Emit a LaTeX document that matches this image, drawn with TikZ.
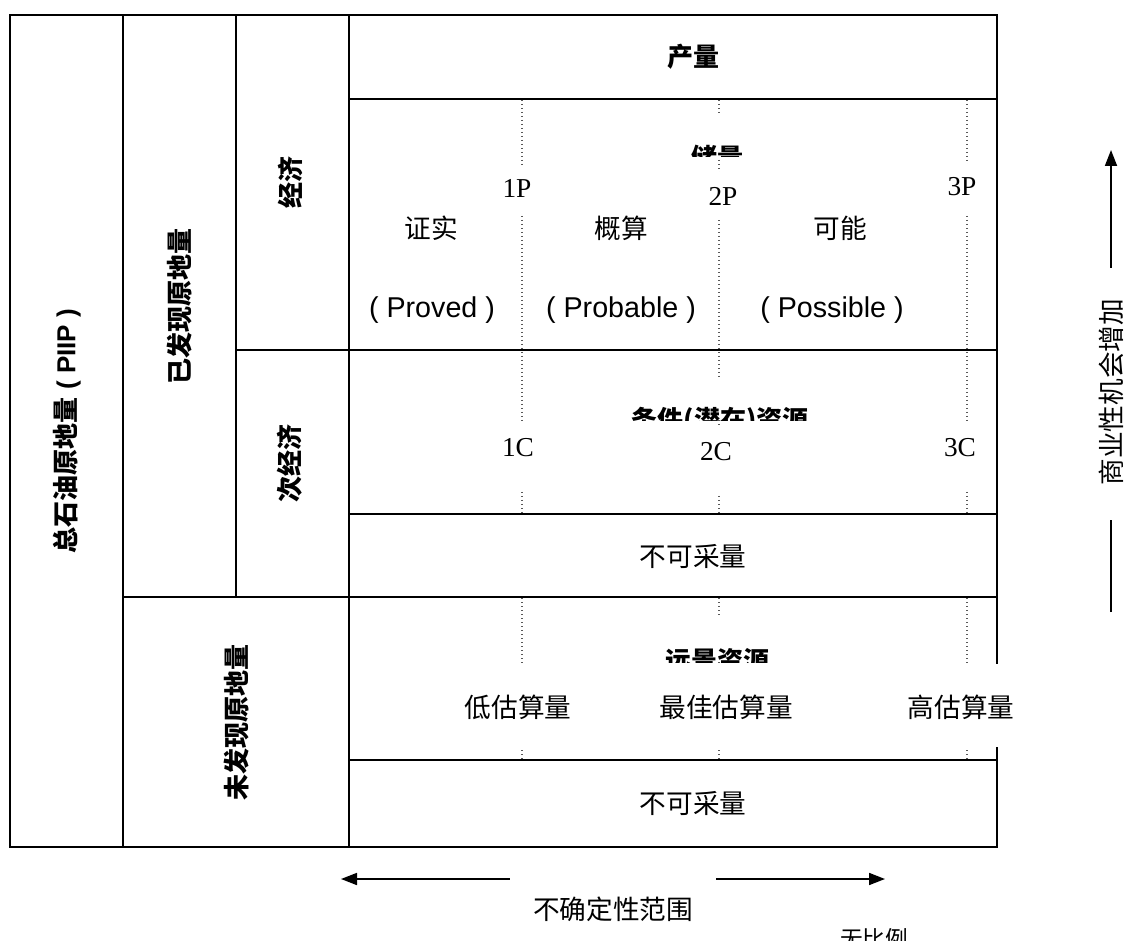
\documentclass[tikz,border=0pt]{standalone}
\usepackage{fontspec}
\setmainfont{Liberation Sans}
\newfontfamily\cjk{Noto Sans CJK SC}
\newfontfamily\tms{Liberation Serif}
\newfontfamily\lat{Liberation Sans}
\usetikzlibrary{arrows.meta}
\begin{document}
\begin{tikzpicture}[x=0.75pt,y=-0.75pt,
  frame/.style={line width=1.6pt, line cap=rect},
  dotline/.style={line width=1.1pt, black!65, dash pattern=on 0.8pt off 2.2pt},
  reg/.style={font=\cjk\fontsize{20}{24}\selectfont, inner sep=0pt},
  latreg/.style={font=\lat\fontsize{21.5}{24}\selectfont, inner sep=0pt},
  bld/.style={font=\cjk\bfseries\fontsize{19.5}{24}\selectfont, inner sep=0pt},
  tlab/.style={font=\tms\fontsize{20.5}{24}\selectfont, inner sep=0pt},
  tip/.tip={Triangle[length=12pt, width=9pt]},
  arr/.style={line width=1.3pt},
  blank/.style={fill=white, draw=none}
  ]
\clip (0,0) rectangle (1143,941);
\fill[white] (0,0) rectangle (1143,941);

% frame lines
\draw[frame] (10,15) rectangle (997,847);
\draw[frame] (123,15) -- (123,847);
\draw[frame] (236,15) -- (236,597);
\draw[frame] (349,15) -- (349,847);
\draw[frame] (349,99) -- (997,99);
\draw[frame] (236,350) -- (997,350);
\draw[frame] (349,514) -- (997,514);
\draw[frame] (123,597) -- (997,597);
\draw[frame] (349,760) -- (997,760);

% dotted boundaries
\foreach \xx in {522,719,967}{
  \draw[dotline] (\xx,100) -- (\xx,513);
  \draw[dotline] (\xx,598) -- (\xx,759);
}

% white text frames covering the dotted lines
\fill[blank] (600,113) rectangle (840,157);
\fill[blank] (490,166) rectangle (552,213);
\fill[blank] (693,172) rectangle (752,220);
\fill[blank] (935,164) rectangle (992,213);
\fill[blank] (600,377) rectangle (840,420);
\fill[blank] (490,423) rectangle (552,490);
\fill[blank] (693,428) rectangle (752,495);
\fill[blank] (935,423) rectangle (992,490);
\fill[blank] (600,617) rectangle (840,662);
\fill[blank] (400,664) rectangle (1025,747);

% left column labels
\node[bld, rotate=90] (piip) at (67,431) {总石油原地量\lat\bfseries\ ( PIIP )};
\node[bld, rotate=90] (disc) at (180,306) {已发现原地量};
\node[bld, rotate=90] (undisc) at (237,722) {未发现原地量};
\node[bld, rotate=90] (econ) at (290,183) {经济};
\node[bld, rotate=90] (subecon) at (290,463) {次经济};

% production
\node[bld] (prod) at (693,57) {产量};

% reserves
\begin{scope}
  \clip (560,100) rectangle (880,157);
  \node[bld] (res) at (717,158) {储量};
\end{scope}
\node[tlab] (p1) at (517,188) {1P};
\node[tlab] (p2) at (723,196) {2P};
\node[tlab] (p3) at (962,187) {3P};
\node[reg] (proved) at (431,228) {证实};
\node[reg] (probable) at (621,228) {概算};
\node[reg] (possible) at (840,228) {可能};
\node[latreg] (provedE) at (432,310) {( Proved )};
\node[latreg] (probableE) at (621,310) {( Probable )};
\node[latreg] (possibleE) at (832,310) {( Possible )};

% contingent
\begin{scope}
  \clip (560,360) rectangle (880,420);
  \node[bld] (cont) at (720,421) {条件(潜在)资源};
\end{scope}
\node[tlab] (c1) at (518,448) {1C};
\node[tlab] (c2) at (716,452) {2C};
\node[tlab] (c3) at (960,448) {3C};

\node[reg] (unrec1) at (693,556) {不可采量};

% prospective
\begin{scope}
  \clip (560,600) rectangle (880,662);
  \node[bld] (prosp) at (717,661) {远景资源};
\end{scope}
\node[reg] (low) at (518,707) {低估算量};
\node[reg] (best) at (726,707) {最佳估算量};
\node[reg] (high) at (961,707) {高估算量};

\node[reg] (unrec2) at (693,803) {不可采量};

% commerciality arrow
\coordinate (vbot) at (1111,612);
\coordinate (vtop) at (1111,150);
\draw[arr, -tip] (vbot) -- (vtop);
\fill[blank] (1090,268) rectangle (1132,520);
\node[reg, rotate=90] (comm) at (1111,392) {商业性机会增加};

% uncertainty arrow
\coordinate (hl) at (341,879);
\coordinate (hr) at (885,879);
\draw[arr, tip-tip] (hl) -- (hr);
\fill[blank] (510,862) rectangle (716,935);
\node[reg] (unc) at (613,909) {不确定性范围};

% scale note (cut by the page edge)
\node[font=\cjk\fontsize{17}{20}\selectfont, inner sep=0pt] (noscale) at (874,939) {无比例};
\end{tikzpicture}
\end{document}
